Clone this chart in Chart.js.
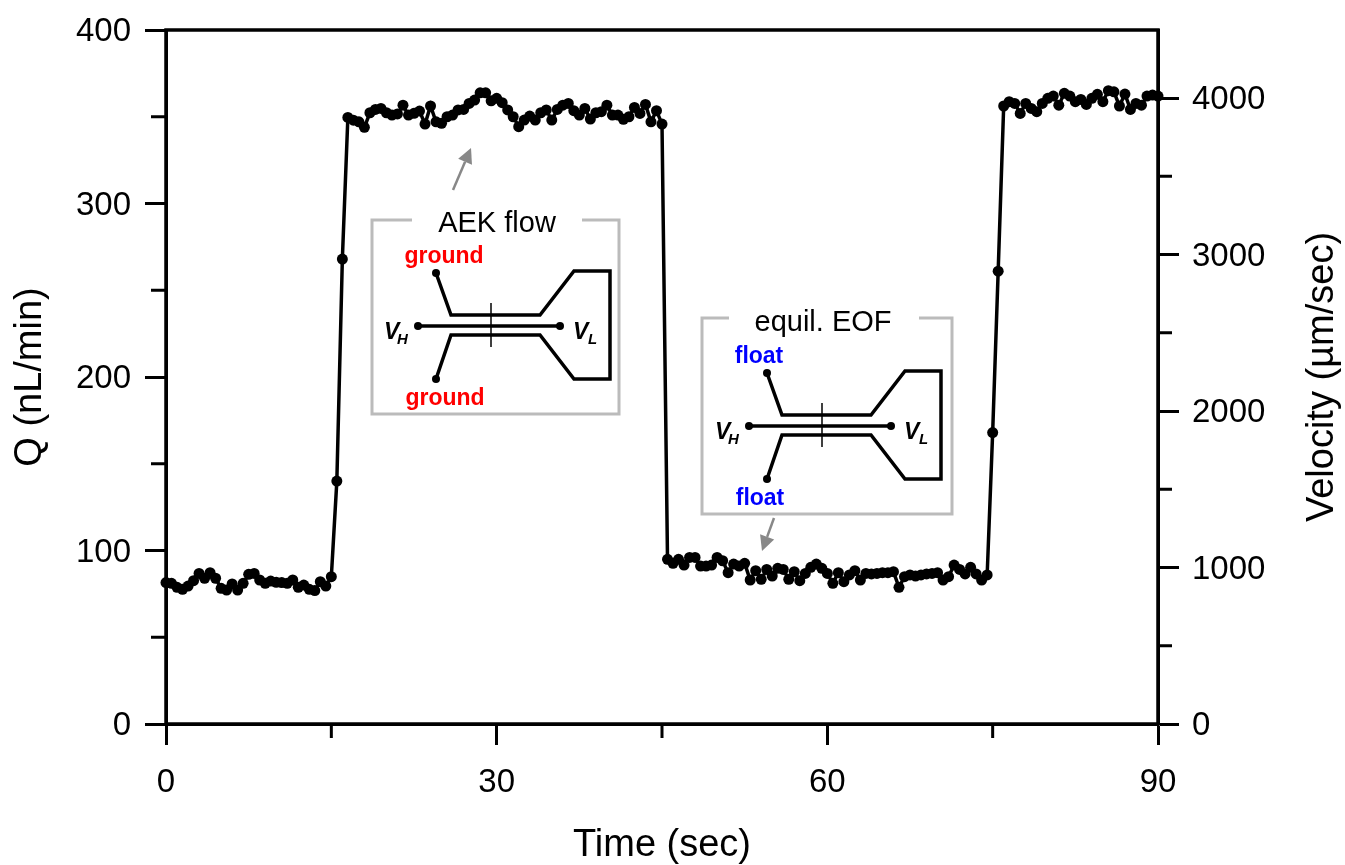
<!DOCTYPE html>
<html>
<head>
<meta charset="utf-8">
<title>AEK flow</title>
<script src="https://cdn.jsdelivr.net/npm/chart.js@4"></script>
<style>
  html, body { margin: 0; padding: 0; background: #fff; }
  canvas { display: block; }
</style>
</head>
<body>
<canvas id="flowChart" width="1345" height="865"></canvas>
<script>
// one reading every half second, 0 to 90 sec
const sampleStep = 0.5;
const flowRate = [
  81.5, 81.1, 78.8, 77.6, 79.5, 82.6, 86.8, 84, 87.2, 84, 78.2, 77.2, 80.7, 77.2, 81.1, 86.3,
  86.8, 83, 81.1, 82.4, 81.7, 81.5, 81.1, 83, 78.8, 80.1, 77.6, 76.9, 82, 79.5, 84.9,
  140, 268,
  349.6, 348, 347.1, 343.9, 352.3, 354.2, 354.8, 352.3, 351, 351.6, 356.7, 351, 352, 353.3,
  345.8, 356.2, 347.1, 346.2, 350, 351, 353.9, 354.2, 357.7, 359.6, 363.8, 363.8, 359.2,
  360.6, 358.1, 353.9, 350, 344.3, 348.1, 350.4, 348.1, 352.3, 353.9, 348.1, 354.2, 356.7,
  357.7, 353.5, 351, 354.8, 348.7, 352.3, 352.9, 356.7, 351, 351, 348.5, 350, 355.4, 351.9,
  357.1, 347.1, 353.5, 345.8,
  94.9, 92.6, 94.9, 91.6, 96, 96, 91, 91, 91.6, 96, 94.1, 87.2, 92.2, 91, 92.6, 83, 88.4,
  83.4, 89.1, 85.3, 89.7, 89.1, 83.4, 87.8, 82.6, 86.8, 90.3, 92.2, 89.7, 86.8, 81.1, 87.2,
  82, 85.9, 88.4, 83, 86.8, 86.5, 86.8, 87.2, 87.2, 87.8, 78.8, 84.9, 85.9, 85.3, 85.9,
  86.5, 86.8, 87.2, 83, 84.9, 91.6, 89.1, 86.5, 90.3, 86.5, 83, 85.9,
  168, 261,
  356.2, 358.7, 357.7, 351.9, 357.7, 354.8, 352.9, 357.7, 360.6, 361.9, 356.7, 363.5, 361.9,
  358.7, 360, 357.1, 360.6, 362.9, 358.7, 365, 364.4, 356.2, 363.1, 354.2, 357.7, 356.7,
  361.9, 362.5, 361.9
];

const timeLabels = [0, 30, 60, 90];
const timeMinor = [15, 45, 75];
const flowLabels = [0, 100, 200, 300, 400];
const flowMinor = [50, 150, 250, 350];
const velocityLabels = [0, 1000, 2000, 3000, 4000];
const velocityMinor = [500, 1500, 2500, 3500];

const sans = '"Liberation Sans", Arial, sans-serif';
const tickFont = { family: sans, size: 33 };
const titleFont = { family: sans, size: 38, lineHeight: 1.05 };

function fixedTicks(list) {
  return function (scale) {
    scale.ticks = list.map(function (v) { return { value: v }; });
  };
}

function plainNumber(value) {
  return String(value);
}

// fixed box size, and no extra room for labels hanging over the plot ends
function fixBox(side, size) {
  return function (scale) {
    scale[side] = size;
    scale.paddingTop = 0;
    scale.paddingBottom = 0;
    scale.paddingLeft = 0;
    scale.paddingRight = 0;
  };
}

// draws one channel sketch, offset from the first inset's position
function drawSketch(ctx, dx, dy) {
  ctx.save();
  ctx.translate(dx, dy);
  ctx.strokeStyle = '#000';
  ctx.fillStyle = '#000';
  ctx.lineWidth = 3.5;
  ctx.lineJoin = 'miter';
  ctx.beginPath();
  ctx.moveTo(436, 273);
  ctx.lineTo(451, 315);
  ctx.lineTo(540, 315);
  ctx.lineTo(574, 271);
  ctx.lineTo(610, 271);
  ctx.lineTo(610, 379);
  ctx.lineTo(574, 379);
  ctx.lineTo(540, 335);
  ctx.lineTo(451, 335);
  ctx.lineTo(436, 379);
  ctx.stroke();
  ctx.beginPath();
  ctx.moveTo(418, 326);
  ctx.lineTo(560, 326);
  ctx.stroke();
  ctx.lineWidth = 1.5;
  ctx.beginPath();
  ctx.moveTo(491, 303);
  ctx.lineTo(491, 347);
  ctx.stroke();
  [[436, 273], [436, 379], [418, 326], [560, 326]].forEach(function (p) {
    ctx.beginPath();
    ctx.arc(p[0], p[1], 4, 0, Math.PI * 2);
    ctx.fill();
  });
  ctx.textAlign = 'left';
  ctx.textBaseline = 'alphabetic';
  ctx.font = 'italic bold 23px ' + sans;
  ctx.fillText('V', 384, 339);
  ctx.fillText('V', 573, 339);
  ctx.font = 'italic bold 15px ' + sans;
  ctx.fillText('H', 397, 344);
  ctx.fillText('L', 588, 344);
  ctx.restore();
}

function drawBox(ctx, left, top, right, bottom, gapLeft, gapRight) {
  ctx.strokeStyle = '#bbb';
  ctx.lineWidth = 3;
  ctx.beginPath();
  ctx.moveTo(gapLeft, top);
  ctx.lineTo(left, top);
  ctx.lineTo(left, bottom);
  ctx.lineTo(right, bottom);
  ctx.lineTo(right, top);
  ctx.lineTo(gapRight, top);
  ctx.stroke();
}

function drawArrow(ctx, x0, y0, x1, y1) {
  const a = Math.atan2(y1 - y0, x1 - x0);
  const headLen = 15, headHalf = 7.5;
  const bx = x1 - headLen * Math.cos(a), by = y1 - headLen * Math.sin(a);
  ctx.strokeStyle = '#888';
  ctx.fillStyle = '#888';
  ctx.lineWidth = 2.5;
  ctx.beginPath();
  ctx.moveTo(x0, y0);
  ctx.lineTo(bx, by);
  ctx.stroke();
  ctx.beginPath();
  ctx.moveTo(x1, y1);
  ctx.lineTo(bx - headHalf * Math.sin(a), by + headHalf * Math.cos(a));
  ctx.lineTo(bx + headHalf * Math.sin(a), by - headHalf * Math.cos(a));
  ctx.closePath();
  ctx.fill();
}

function label(ctx, text, x, y, font, color) {
  ctx.font = font;
  ctx.fillStyle = color;
  ctx.textAlign = 'center';
  ctx.textBaseline = 'alphabetic';
  ctx.fillText(text, x, y);
}

const extras = {
  id: 'extras',
  beforeDatasetsDraw(chart) {
    const ctx = chart.ctx, area = chart.chartArea, s = chart.scales;
    ctx.save();
    ctx.strokeStyle = '#000';
    ctx.lineWidth = 3.5;
    ctx.strokeRect(area.left, area.top, area.right - area.left, area.bottom - area.top);
    // shorter minor ticks
    ctx.lineWidth = 3;
    ctx.beginPath();
    timeMinor.forEach(function (v) {
      const px = s.x.getPixelForValue(v);
      ctx.moveTo(px, area.bottom);
      ctx.lineTo(px, area.bottom + 14);
    });
    flowMinor.forEach(function (v) {
      const py = s.y.getPixelForValue(v);
      ctx.moveTo(area.left, py);
      ctx.lineTo(area.left - 15, py);
    });
    velocityMinor.forEach(function (v) {
      const py = s.y1.getPixelForValue(v);
      ctx.moveTo(area.right, py);
      ctx.lineTo(area.right + 14, py);
    });
    ctx.stroke();
    ctx.restore();
  },
  afterDraw(chart) {
    const ctx = chart.ctx;
    ctx.save();
    // right axis title reads bottom to top, chart.js would turn it the other way
    ctx.save();
    ctx.translate(1333, 377);
    ctx.rotate(-Math.PI / 2);
    label(ctx, 'Velocity (\u00b5m/sec)', 0, 0, titleFont.size + 'px ' + sans, '#000');
    ctx.restore();

    drawBox(ctx, 372, 220, 619, 414, 412, 582);
    label(ctx, 'AEK flow', 497, 232, '29px ' + sans, '#000');
    drawSketch(ctx, 0, 0);
    label(ctx, 'ground', 444, 263, 'bold 23px ' + sans, '#f00');
    label(ctx, 'ground', 445, 405, 'bold 23px ' + sans, '#f00');
    drawArrow(ctx, 453, 190, 471, 148);

    drawBox(ctx, 702, 318, 952, 514, 729, 919);
    label(ctx, 'equil. EOF', 823, 331, '29px ' + sans, '#000');
    drawSketch(ctx, 331, 100);
    label(ctx, 'float', 759, 363, 'bold 23px ' + sans, '#00f');
    label(ctx, 'float', 760, 505, 'bold 23px ' + sans, '#00f');
    drawArrow(ctx, 774, 518, 762, 551);
    ctx.restore();
  }
};

const flowChart = new Chart(document.getElementById('flowChart'), {
  type: 'line',
  data: {
    datasets: [{
      data: flowRate.map(function (q, i) { return { x: i * sampleStep, y: q }; }),
      yAxisID: 'y',
      borderColor: '#000',
      backgroundColor: '#000',
      borderWidth: 3.5,
      pointRadius: 5.5,
      pointBorderWidth: 0,
      tension: 0,
      clip: false
    }]
  },
  options: {
    responsive: false,
    animation: false,
    layout: { padding: { top: 30, left: 0, right: 0, bottom: 0 } },
    plugins: { legend: { display: false }, tooltip: { enabled: false } },
    scales: {
      x: {
        type: 'linear',
        min: 0,
        max: 90,
        afterBuildTicks: fixedTicks(timeLabels),
        afterFit: fixBox('height', 141),
        border: { color: '#000', width: 3 },
        grid: { drawOnChartArea: false, tickLength: 21, tickWidth: 3, tickColor: '#000' },
        ticks: { autoSkip: false, maxRotation: 0, padding: 18, color: '#000', font: tickFont, callback: plainNumber },
        title: { display: true, text: 'Time (sec)', color: '#000', font: titleFont, padding: { top: 16, bottom: 0 } }
      },
      y: {
        position: 'left',
        min: 0,
        max: 400,
        afterBuildTicks: fixedTicks(flowLabels),
        afterFit: fixBox('width', 166),
        border: { color: '#000', width: 3 },
        grid: { drawOnChartArea: false, tickLength: 21, tickWidth: 3, tickColor: '#000' },
        ticks: { autoSkip: false, padding: 14, labelOffset: 2, color: '#000', font: tickFont, callback: plainNumber },
        title: { display: true, text: 'Q (nL/min)', color: '#000', font: titleFont, padding: { top: 11, bottom: 0 } }
      },
      y1: {
        position: 'right',
        display: true,
        min: 0,
        max: 4435,
        afterBuildTicks: fixedTicks(velocityLabels),
        afterFit: fixBox('width', 187),
        border: { color: '#000', width: 3 },
        grid: { drawOnChartArea: false, tickLength: 21, tickWidth: 3, tickColor: '#000' },
        ticks: { autoSkip: false, padding: 13, labelOffset: 2, color: '#000', font: tickFont, callback: plainNumber }
      }
    }
  },
  plugins: [extras]
});
</script>
</body>
</html>
